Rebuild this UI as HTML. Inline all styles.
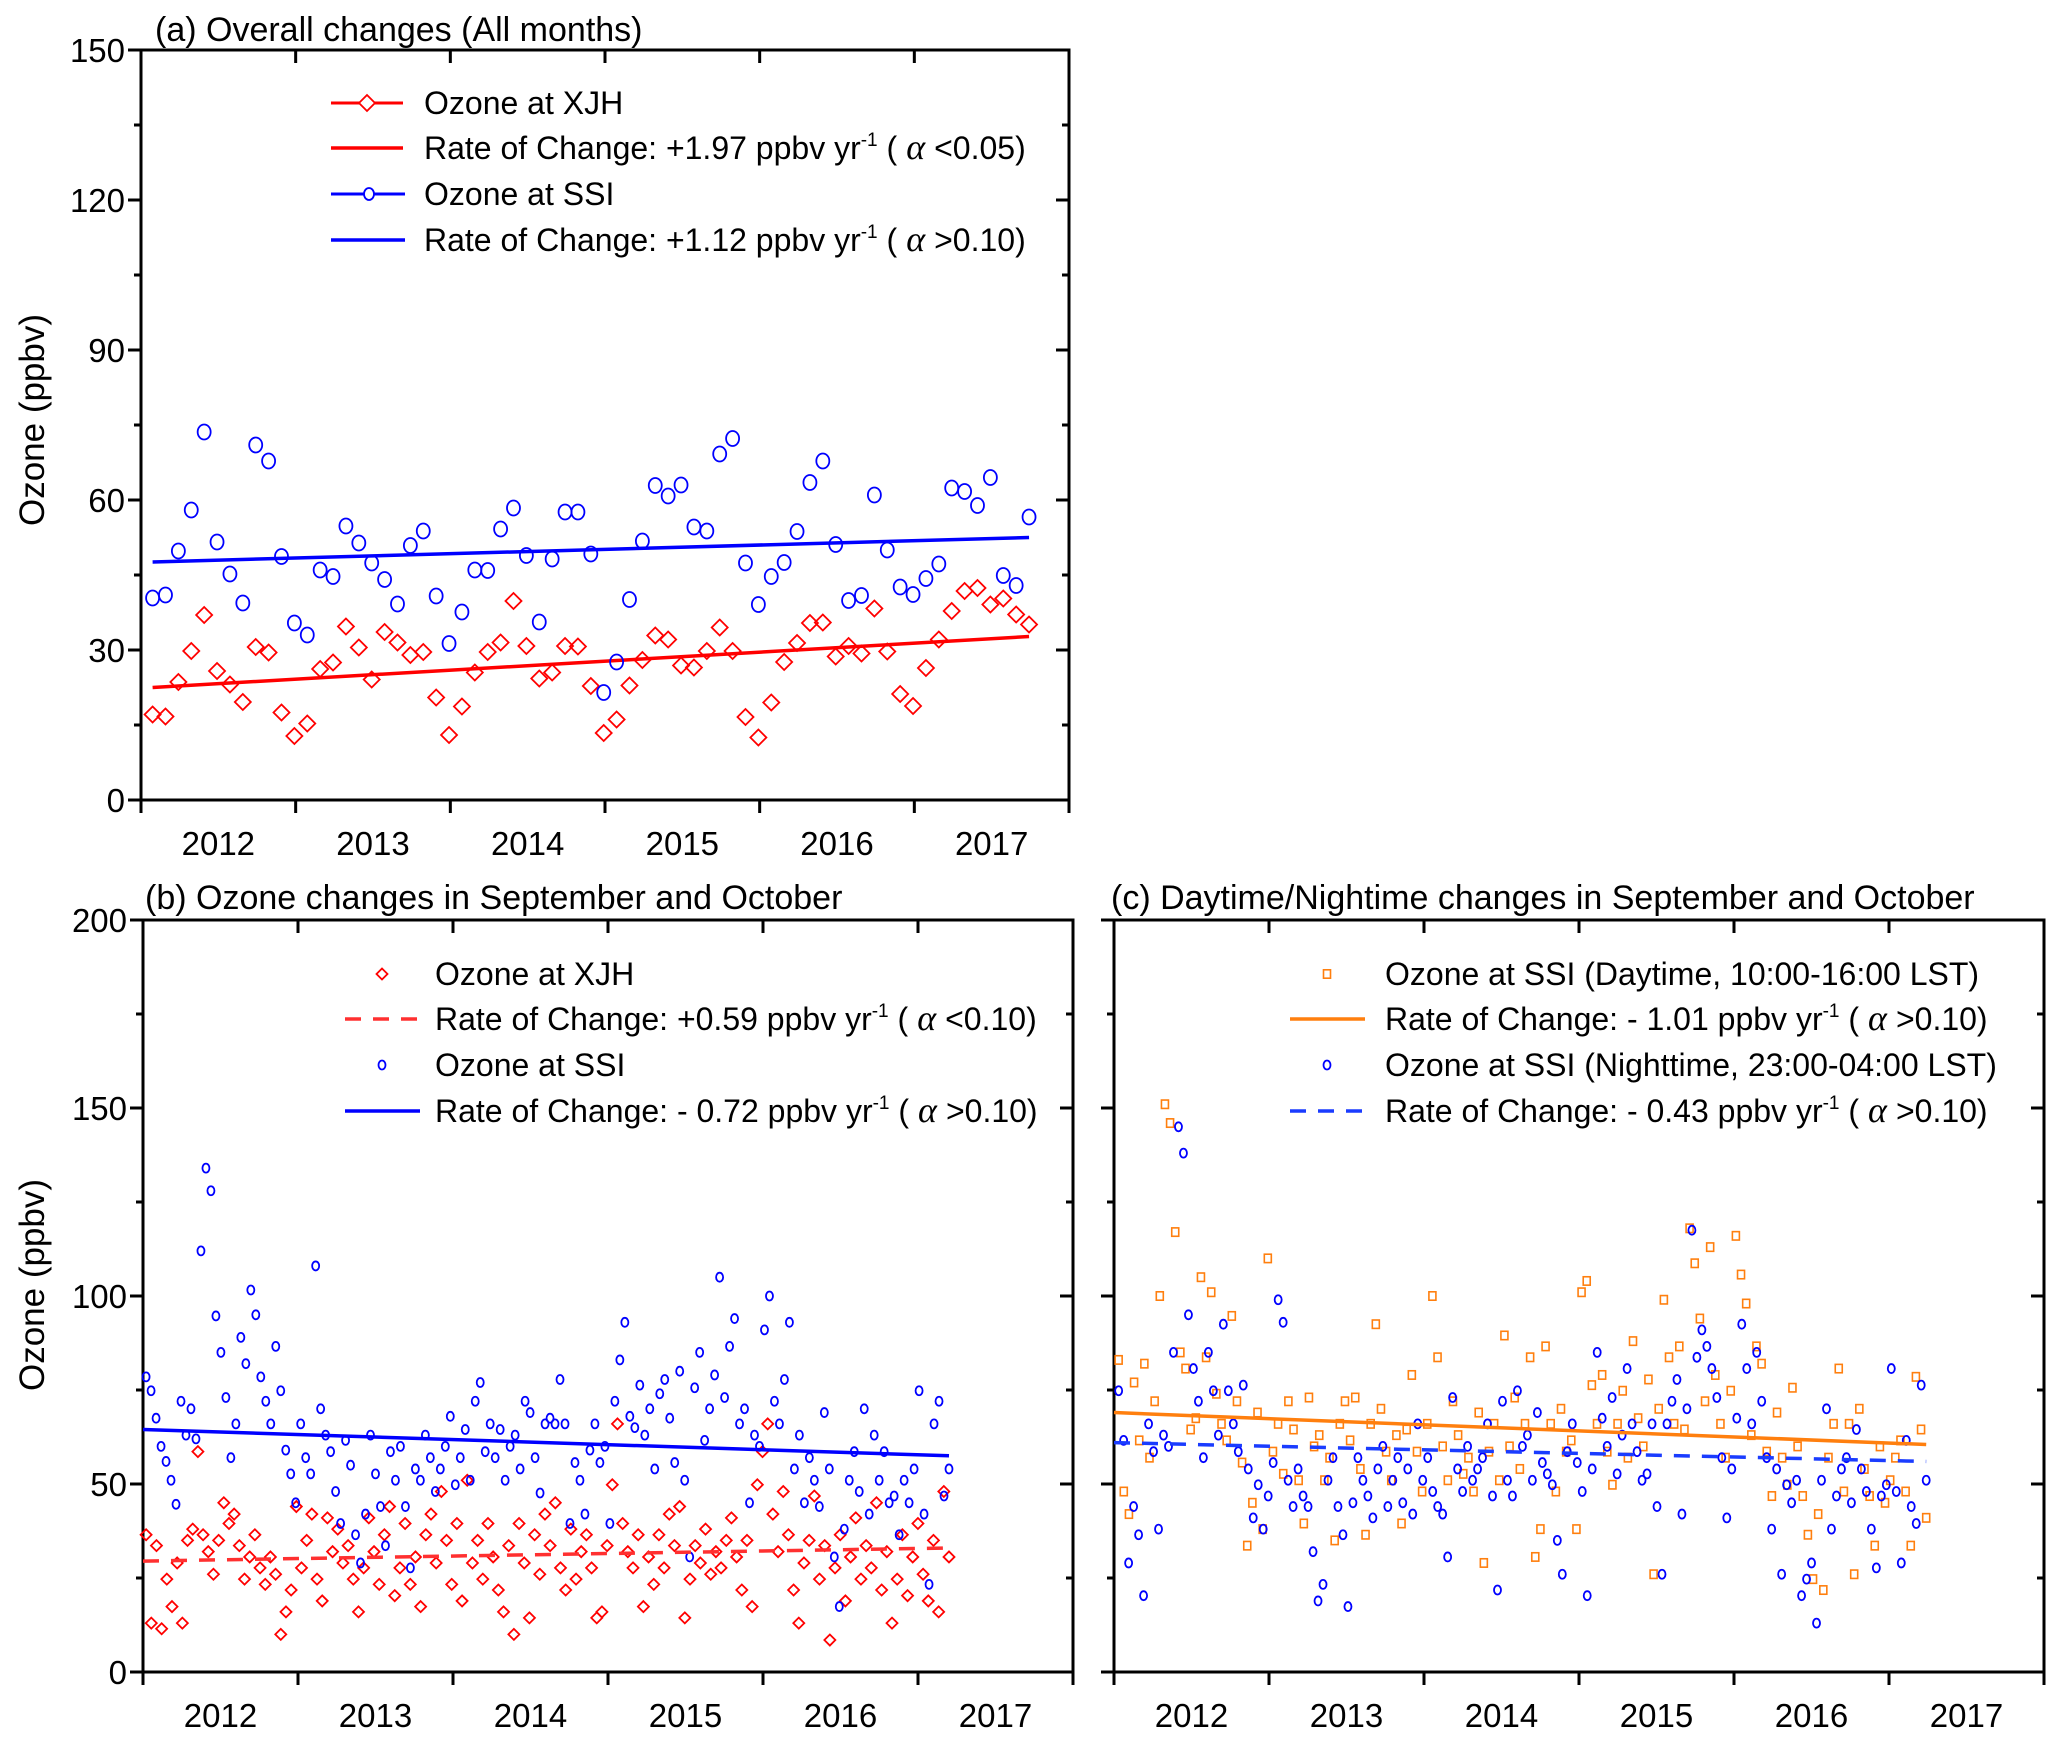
<!DOCTYPE html>
<html><head><meta charset="utf-8"><style>
html,body{margin:0;padding:0;background:#fff}
svg{display:block;font-family:"Liberation Sans",Arial,sans-serif}
</style></head><body>
<svg id="chart" width="2067" height="1740" viewBox="0 0 2067 1740" xmlns="http://www.w3.org/2000/svg"></svg>
<script>
// ---------- Panel (a) monthly data ----------
const aYearTicks = [2012, 2013, 2014, 2015, 2016, 2017];
const aYTicks = [0, 30, 60, 90, 120, 150];
const aSSI = [40.4,41,49.8,58,73.6,51.6,45.2,39.4,71,67.8,48.7,35.4,33,46,44.7,54.8,51.4,47.4,44.1,39.2,50.9,53.8,40.8,31.3,37.6,46,45.9,54.2,58.4,48.9,35.6,48.2,57.6,57.6,49.2,21.5,27.6,40.1,51.8,62.9,60.8,63,54.6,53.8,69.2,72.3,47.4,39.1,44.7,47.5,53.7,63.5,67.8,51.1,39.9,40.9,61,50,42.6,41.1,44.3,47.2,62.4,61.7,58.9,64.5,44.9,42.9,56.6];
const aXJH = [17.1,16.7,23.6,29.8,37,25.8,23.1,19.6,30.6,29.5,17.5,12.8,15.3,26.2,27.5,34.7,30.5,24.1,33.6,31.5,29,29.6,20.5,13,18.7,25.5,29.6,31.5,39.8,30.8,24.3,25.5,30.8,30.7,22.8,13.4,16.1,22.9,28,32.9,32.1,26.9,26.5,29.8,34.5,29.8,16.6,12.5,19.5,27.6,31.4,35.4,35.5,28.7,30.8,29.3,38.3,29.7,21.2,18.8,26.4,32.1,37.8,41.8,42.4,39.1,40.3,37.1,35.1];
const aTrendXJH = [22.5, 32.7];
const aTrendSSI = [47.6, 52.5];

// ---------- Panel (b) Sep/Oct ----------
const bYTicks = [0, 50, 100, 150, 200];
const bRange = [2012.02, 2017.2];
const bSSI = [78.5,74.8,67.5,60,56,51,44.6,72,63,70,62,112,134,128,94.7,85,73,57,66,89,82,101.6,95,78.5,72,66,86.6,74.8,59,52.7,45,66,57,52.7,108,70,63,58.6,48,39.5,61.6,55,36.5,29,42,63,52.7,44,33.6,58.6,51,60,44,27.7,54,51,63,57,48,54,60,68,49.8,57,64.5,51,72,77,58.6,66,57,64.5,51,60,63,54,72,69,57,47.6,66,67.5,66,77.8,66,39.5,55.7,51,42,59,66,55.7,60,39.5,72,83,93,68,65,76.3,63,70,54,74,77.8,67.5,55.7,80,51,30.6,75.6,85,61.6,70,79,105,73,86.6,94,66,70,45,63,60,91,100,72,66,77.8,93,54,63,45,57,51,44,69,54,30.6,17.4,38,51,58.6,48,70,42,63,51,58.6,45,46.8,36.5,51,45,54,74.8,42,23.3,66,72,46.8,54];
const bXJH = [36.5,13,33.6,11.5,24.7,17.4,29,13,35,38,58.6,36.5,32,26,35,45,39.5,42,33.6,24.7,30.6,36.5,27.7,23.3,30.6,26,10,16,21.8,44,27.7,35,42,24.7,18.9,41,32,38,29,33.6,24.7,16,27.7,41,32,23.3,36.5,44,20.3,27.7,39.5,23.3,30.6,17.4,36.5,42,29,48,35,23.3,39.5,18.9,51,29,35,24.7,39.5,30.6,21.8,16,33.6,10,39.5,29,14.4,36.5,26,42,33.6,45,27.7,21.8,38,24.7,32,36.5,27.7,14.4,16,33.6,49.8,66,39.5,32,27.7,36.5,17.4,30.6,23.3,36.5,27.7,42,33.6,44,14.4,24.7,33.6,29,38,26,32,27.7,35,41,30.6,21.8,35,17.4,49.8,58.6,66,42,32,48,36.5,21.8,13,29,35,46.8,24.7,33.6,8.5,27.7,36.5,18.9,30.6,41,24.7,33.6,27.7,45,21.8,32,13,24.7,36.5,20.3,30.6,39.5,26,18.9,35,16,48,30.6];
const bTrendSSI = [64.5, 57.5];
const bTrendXJH = [29.5, 33];

// ---------- Panel (c) day/night ----------
const cRange = [2012.03, 2017.24];
const cDay = [83,48,42,77,61.6,82,57,72,100,151,146,117,85,80.7,64.5,67.5,105,83.7,101,74,66,61.6,94.7,72,55.7,33.6,45,69,38,110,58.6,66,52.7,72,64.5,51,39.5,73,60,63,51,57,35,66,72,61.6,73,54,36.5,66,92.5,70,58.6,51,63,39.5,64.5,79,58.6,48,66,100,83.7,60,51,72,63,52.7,57,48,69,29,58.6,66,51,89.5,60,73,54,66,83.7,30.6,38,86.6,66,48,70,58.6,61.6,38,101,104,76.3,66,79,58.6,49.8,66,74.8,57,88,67.5,60,77.8,26,70,99,83.7,66,86.6,64.5,118,108.7,94,72,113,79,66,57,74.8,116,105.7,98,63,86.6,82,58.6,46.8,69,57,49.8,75.6,60,46.8,36.5,24.7,42,21.8,57,66,80.7,48,66,26,70,54,46.8,33.6,60,45,51,57,61.6,48,33.6,78.5,64.5,41];
const cNight = [74.8,61.6,29,44,36.5,20.3,66,58.6,38,63,60,85,145,138,95,80.7,72,57,85,74.8,63,92.5,74.8,66,58.6,76.3,54,41,49.8,38,46.8,55.7,99,93,51,44,54,46.8,44,32,18.9,23.3,51,57,44,36.5,17.4,45,57,51,46.8,41,54,60,44,51,57,45,54,42,66,51,57,48,44,42,30.6,73,54,48,60,51,54,57,66,46.8,21.8,72,51,46.8,74.8,60,63,51,69,55.7,52.7,49.8,35,26,58.6,66,55.7,48,20.3,54,85,67.5,60,73,52.7,63,80.7,66,58.6,51,52.7,66,44,26,66,72,77.8,42,70,117.5,83.7,91,86.6,80.7,73,57,41,54,67.5,92.5,80.7,66,85,72,57,38,54,26,49.8,45,51,20.3,24.7,29,13,51,70,38,46.8,54,57,45,64.5,54,48,38,27.7,46.8,49.8,80.7,48,29,61.6,44,39.5,76.3,51];
const cTrendDay = [69, 60.5];
const cTrendNight = [61, 56];

const NS = "http://www.w3.org/2000/svg";
const svg = document.getElementById('chart');
function el(tag, attrs, parent) {
  const e = document.createElementNS(NS, tag);
  for (const k in attrs) e.setAttribute(k, attrs[k]);
  (parent || svg).appendChild(e);
  return e;
}

function makeAxes(P) {
  const sx = v => P.x0 + (v - 2012) / 6 * (P.x1 - P.x0);
  const sy = v => P.y1 - v / P.ymax * (P.y1 - P.y0);
  return {sx, sy};
}

function drawFrame(P, yTicks, minorStep, showLabels, name) {
  const g = el('g', {});
  
  
  const {sx, sy} = makeAxes(P);
  const r = el('rect', {x: P.x0, y: P.y0, width: P.x1 - P.x0, height: P.y1 - P.y0, fill: 'none', stroke: '#000', 'stroke-width': 3}, g);
  
  
  for (let y = 2012; y <= 2018; y++) {
    const x = sx(y);
    el('line', {x1: x, x2: x, y1: P.y1, y2: P.y1 + 13, stroke: '#000', 'stroke-width': 3}, g);
    el('line', {x1: x, x2: x, y1: P.y0, y2: P.y0 + 13, stroke: '#000', 'stroke-width': 3}, g);
  }
  aYearTicks.forEach(y => {
    const t = el('text', {x: sx(y + 0.5), y: P.y1 + 55, 'font-size': 33, 'text-anchor': 'middle'}, g);
    t.textContent = y;
    
    
  });
  const ymaxv = yTicks[yTicks.length - 1];
  for (let v = 0; v <= ymaxv + 0.001; v += minorStep) {
    const major = yTicks.some(t => Math.abs(t - v) < 0.001);
    const L = major ? 13 : 7;
    const y = sy(v);
    el('line', {x1: P.x0 - L, x2: P.x0, y1: y, y2: y, stroke: '#000', 'stroke-width': 3}, g);
    el('line', {x1: P.x1, x2: P.x1 - L, y1: y, y2: y, stroke: '#000', 'stroke-width': 3}, g);
  }
  if (showLabels) yTicks.forEach(v => {
    const t = el('text', {x: P.x0 - 16, y: sy(v) + 12, 'font-size': 33, 'text-anchor': 'end'}, g);
    t.textContent = v;
    
    
  });
}

function diamond(x, y, s, color, parent) {
  return el('polygon', {points: `${x},${y - s} ${x + s},${y} ${x},${y + s} ${x - s},${y}`, fill: 'none', stroke: color, 'stroke-width': 1.8}, parent);
}
function circle(x, y, rx, ry, color, parent) {
  return el('ellipse', {cx: x, cy: y, rx: rx, ry: ry, fill: 'none', stroke: color, 'stroke-width': 1.8}, parent);
}
function square(x, y, s, color, parent) {
  return el('rect', {x: x - s, y: y - s * 1.2, width: 2 * s, height: 2.4 * s, fill: 'none', stroke: color, 'stroke-width': 1.6}, parent);
}
function text(x, y, str, size, parent, name) {
  const t = el('text', {x: x, y: y, 'font-size': size}, parent);
  t.innerHTML = str;
  
  
  return t;
}
const ALPHA = '<tspan font-family="Liberation Serif, serif" font-style="italic" font-size="36"> α </tspan>';
const SUP = '<tspan font-size="19" dy="-13">-1</tspan><tspan dy="13"> </tspan>';
const LF = 32;

// ===== Panel a =====
const PA = {x0: 141, x1: 1069, y0: 50, y1: 800, ymax: 150};
drawFrame(PA, aYTicks, 15, true, 'panel-a');
{
  const {sx, sy} = makeAxes(PA);
  const g = el('g', {});
  
  
  const xa = i => sx(2012 + (i + 0.9) / 12);
  const n = aXJH.length;
  let l = el('line', {x1: xa(0), x2: xa(n - 1), y1: sy(aTrendXJH[0]), y2: sy(aTrendXJH[1]), stroke: '#ff0000', 'stroke-width': 3.5}, g);
  
  l = el('line', {x1: xa(0), x2: xa(aSSI.length - 1), y1: sy(aTrendSSI[0]), y2: sy(aTrendSSI[1]), stroke: '#0000ff', 'stroke-width': 3.5}, g);
  
  aXJH.forEach((v, i) => {
    const m = diamond(xa(i), sy(v), 8, '#ff0000', g);
    
    
  });
  aSSI.forEach((v, i) => {
    const m = circle(xa(i), sy(v), 6.5, 7.5, '#0000ff', g);
    
    
  });
  text(155, 41, '(a) Overall changes (All months)', 34, svg, 'panel-a-title');
  const yl = text(0, 0, 'Ozone (ppbv)', 35, svg, 'panel-a-y-axis-title');
  yl.setAttribute('transform', 'translate(44,420) rotate(-90)');
  yl.setAttribute('text-anchor', 'middle');
  const lg = el('g', {});
  
  
  const rows = [103, 148, 194, 240];
  el('line', {x1: 331, x2: 403, y1: rows[0], y2: rows[0], stroke: '#ff0000', 'stroke-width': 3}, lg);
  const d0 = diamond(367, rows[0], 8, '#ff0000', lg); d0.setAttribute('fill', '#fff');
  el('line', {x1: 331, x2: 403, y1: rows[1], y2: rows[1], stroke: '#ff0000', 'stroke-width': 3.5}, lg);
  el('line', {x1: 331, x2: 405, y1: rows[2], y2: rows[2], stroke: '#0000ff', 'stroke-width': 3}, lg);
  const c0 = circle(369, rows[2], 5, 6, '#0000ff', lg); c0.setAttribute('fill', '#fff');
  el('line', {x1: 331, x2: 405, y1: rows[3], y2: rows[3], stroke: '#0000ff', 'stroke-width': 3.5}, lg);
  text(424, rows[0] + 11, 'Ozone at XJH', LF, lg, 'legend-entry');
  text(424, rows[1] + 11, 'Rate of Change: +1.97 ppbv yr' + SUP + '(' + ALPHA + '&lt;0.05)', LF, lg, 'legend-entry');
  text(424, rows[2] + 11, 'Ozone at SSI', LF, lg, 'legend-entry');
  text(424, rows[3] + 11, 'Rate of Change: +1.12 ppbv yr' + SUP + '(' + ALPHA + '&gt;0.10)', LF, lg, 'legend-entry');
}

// ===== Panel b =====
const PB = {x0: 143, x1: 1073, y0: 920, y1: 1672, ymax: 200};
drawFrame(PB, bYTicks, 25, true, 'panel-b');
{
  const {sx, sy} = makeAxes(PB);
  const g = el('g', {});
  
  
  const xs = (i, n) => sx(bRange[0] + i * (bRange[1] - bRange[0]) / (n - 1));
  bXJH.forEach((v, i) => {
    const m = diamond(xs(i, bXJH.length), sy(v), 5.5, '#ff0000', g);
    
    
  });
  bSSI.forEach((v, i) => {
    const m = circle(xs(i, bSSI.length), sy(v), 3.5, 4.5, '#0000ff', g);
    
    
  });
  let l = el('line', {x1: sx(2012), x2: sx(2017.22), y1: sy(bTrendXJH[0]), y2: sy(bTrendXJH[1]), stroke: '#ff3030', 'stroke-width': 3.5, 'stroke-dasharray': '16 12'}, g);
  
  l = el('line', {x1: sx(2012), x2: sx(2017.2), y1: sy(bTrendSSI[0]), y2: sy(bTrendSSI[1]), stroke: '#0000ff', 'stroke-width': 3.5}, g);
  
  text(145, 909, '(b) Ozone changes in September and October', 34, svg, 'panel-b-title');
  const yl = text(0, 0, 'Ozone (ppbv)', 35, svg, 'panel-b-y-axis-title');
  yl.setAttribute('transform', 'translate(44,1285) rotate(-90)');
  yl.setAttribute('text-anchor', 'middle');
  const lg = el('g', {});
  
  
  const rows = [974, 1019, 1065, 1111];
  diamond(382, rows[0], 5.5, '#ff0000', lg);
  el('line', {x1: 345, x2: 420, y1: rows[1], y2: rows[1], stroke: '#ff3030', 'stroke-width': 3.5, 'stroke-dasharray': '16 12'}, lg);
  circle(382, rows[2], 3.5, 4.5, '#0000ff', lg);
  el('line', {x1: 345, x2: 420, y1: rows[3], y2: rows[3], stroke: '#0000ff', 'stroke-width': 3.5}, lg);
  text(435, rows[0] + 11, 'Ozone at XJH', LF, lg, 'legend-entry');
  text(435, rows[1] + 11, 'Rate of Change: +0.59 ppbv yr' + SUP + '(' + ALPHA + '&lt;0.10)', LF, lg, 'legend-entry');
  text(435, rows[2] + 11, 'Ozone at SSI', LF, lg, 'legend-entry');
  text(435, rows[3] + 11, 'Rate of Change: - 0.72 ppbv yr' + SUP + '(' + ALPHA + '&gt;0.10)', LF, lg, 'legend-entry');
}

// ===== Panel c =====
const PC = {x0: 1114, x1: 2044, y0: 920, y1: 1672, ymax: 200};
drawFrame(PC, bYTicks, 25, false, 'panel-c');
{
  const {sx, sy} = makeAxes(PC);
  const g = el('g', {});
  
  
  const xs = (i, n) => sx(cRange[0] + i * (cRange[1] - cRange[0]) / (n - 1));
  cDay.forEach((v, i) => {
    const m = square(xs(i, cDay.length), sy(v), 3.5, '#ff7f0e', g);
    
    
  });
  cNight.forEach((v, i) => {
    const m = circle(xs(i, cNight.length), sy(v), 3.5, 4.5, '#0000ff', g);
    
    
  });
  let l = el('line', {x1: sx(2012), x2: sx(2017.24), y1: sy(cTrendDay[0]), y2: sy(cTrendDay[1]), stroke: '#ff7f0e', 'stroke-width': 3.5}, g);
  
  l = el('line', {x1: sx(2012), x2: sx(2017.24), y1: sy(cTrendNight[0]), y2: sy(cTrendNight[1]), stroke: '#1a3cff', 'stroke-width': 3.5, 'stroke-dasharray': '16 12'}, g);
  
  text(1111, 909, '(c) Daytime/Nightime changes in September and October', 34, svg, 'panel-c-title');
  const lg = el('g', {});
  
  
  const rows = [974, 1019, 1065, 1111];
  square(1327, rows[0], 3.5, '#ff7f0e', lg);
  el('line', {x1: 1290, x2: 1365, y1: rows[1], y2: rows[1], stroke: '#ff7f0e', 'stroke-width': 3.5}, lg);
  circle(1327, rows[2], 3.5, 4.5, '#0000ff', lg);
  el('line', {x1: 1290, x2: 1365, y1: rows[3], y2: rows[3], stroke: '#1a3cff', 'stroke-width': 3.5, 'stroke-dasharray': '16 12'}, lg);
  text(1385, rows[0] + 11, 'Ozone at SSI (Daytime, 10:00-16:00 LST)', LF, lg, 'legend-entry');
  text(1385, rows[1] + 11, 'Rate of Change: - 1.01 ppbv yr' + SUP + '(' + ALPHA + '&gt;0.10)', LF, lg, 'legend-entry');
  text(1385, rows[2] + 11, 'Ozone at SSI (Nighttime, 23:00-04:00 LST)', LF, lg, 'legend-entry');
  text(1385, rows[3] + 11, 'Rate of Change: - 0.43 ppbv yr' + SUP + '(' + ALPHA + '&gt;0.10)', LF, lg, 'legend-entry');
}
</script>
</body></html>
